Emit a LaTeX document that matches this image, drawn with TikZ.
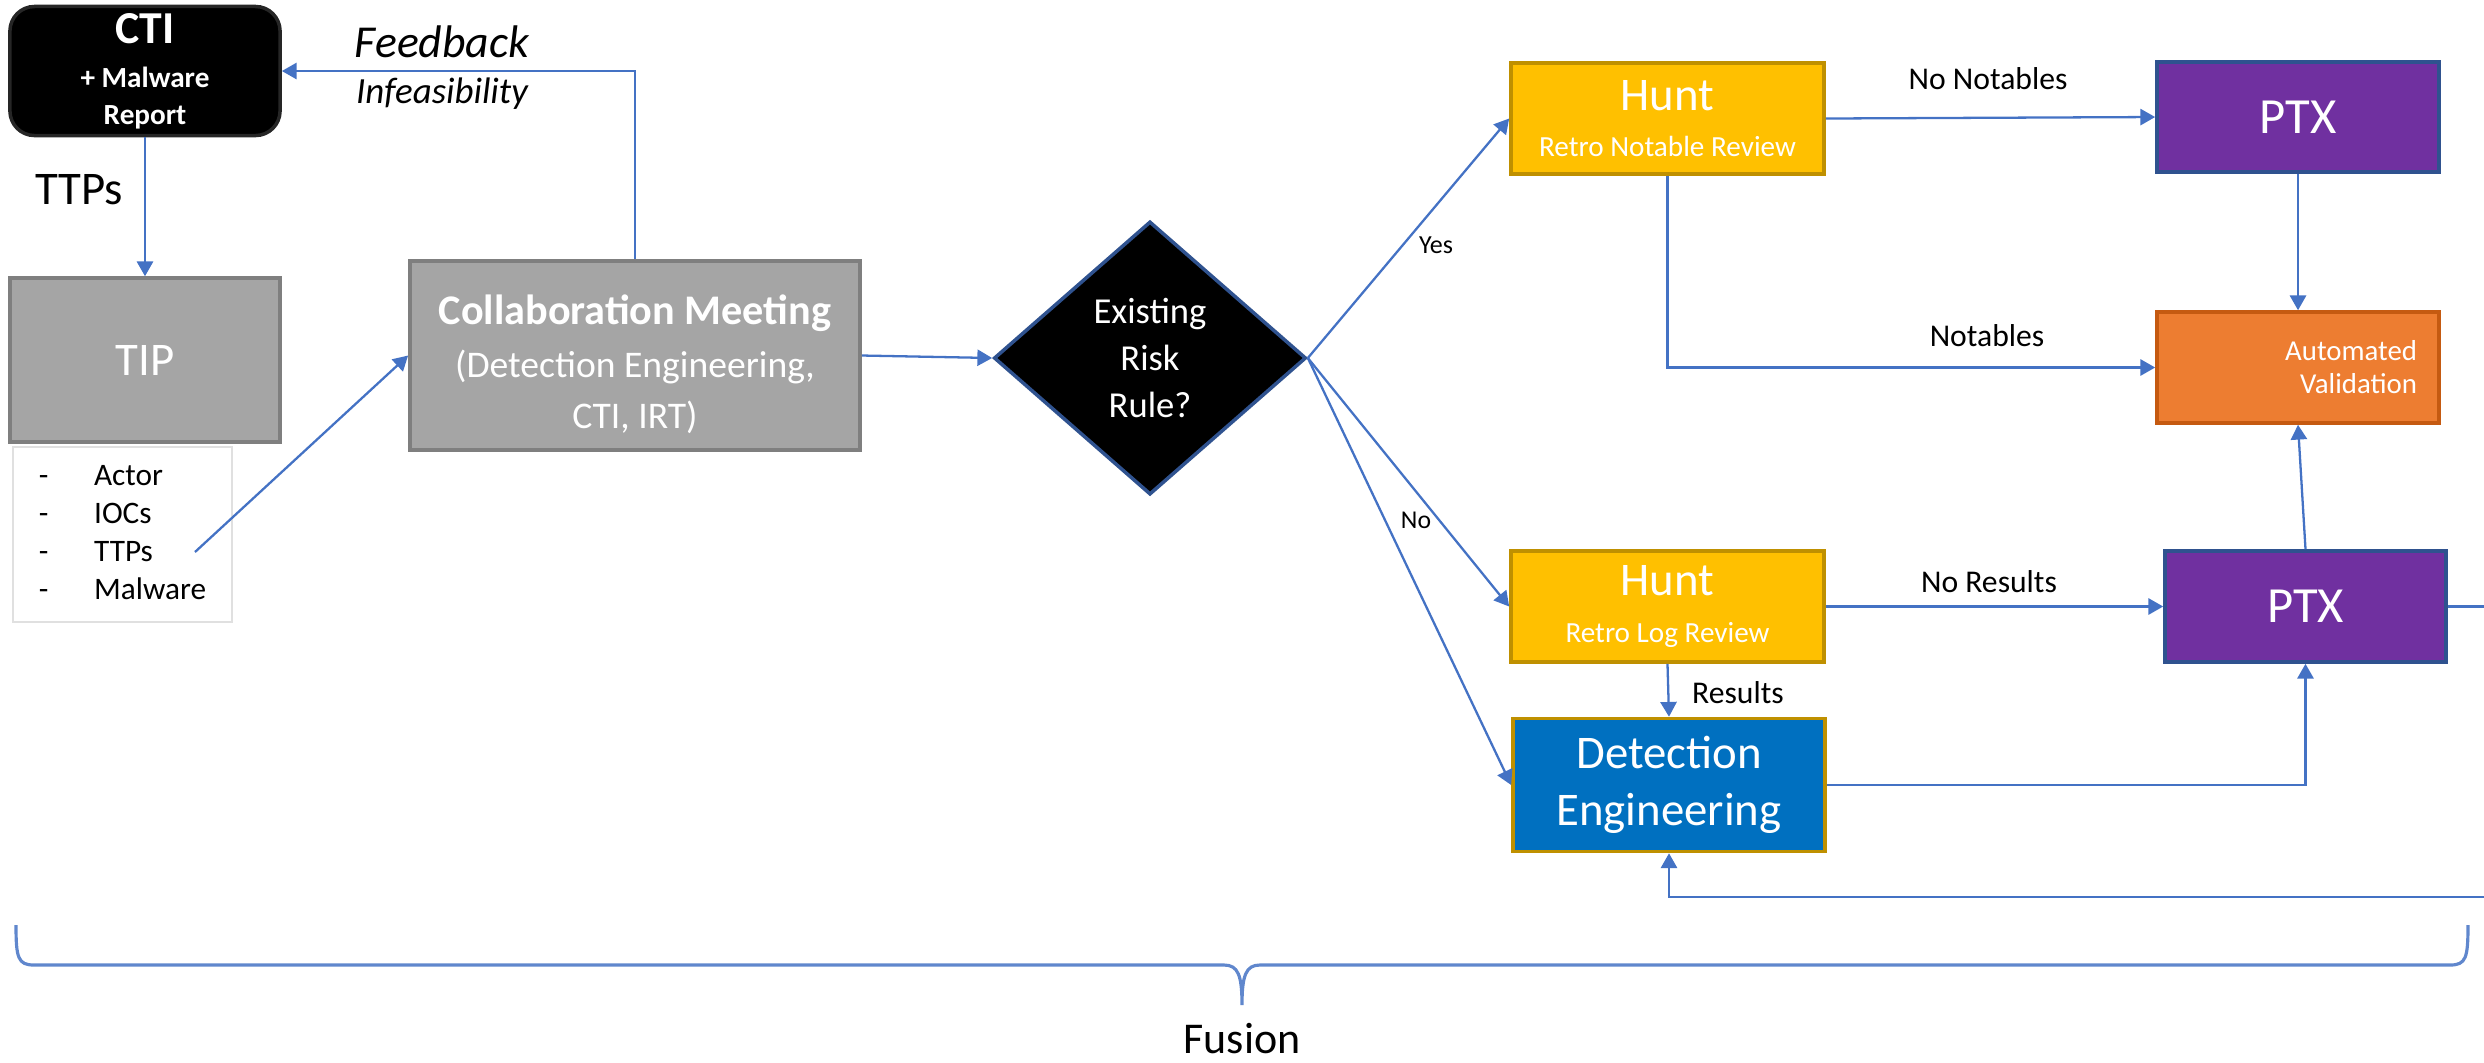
\documentclass[tikz,border=0pt]{standalone}
\usepackage{fontspec}
\setmainfont{Carlito}
\usetikzlibrary{arrows.meta,shapes.geometric}
\definecolor{linkblue}{HTML}{4472C4}
\definecolor{boxgray}{HTML}{A5A5A5}
\definecolor{grayedge}{HTML}{7F7F7F}
\definecolor{huntgold}{HTML}{FFC000}
\definecolor{goldedge}{HTML}{BF9000}
\definecolor{ptxpurple}{HTML}{7030A0}
\definecolor{navyedge}{HTML}{2F528F}
\definecolor{valorange}{HTML}{ED7D31}
\definecolor{orangeedge}{HTML}{C55A11}
\definecolor{deblue}{HTML}{0070C0}

\begin{document}
\begin{tikzpicture}[x=0.01cm,y=-0.01cm,
  box/.style={draw,line width=1pt,text=white,inner sep=0pt,align=center},
  wire/.style={draw=linkblue,line width=0.65pt},
  arr/.style={wire,-{Triangle[length=4.2pt,width=4.6pt]}},
  lbl/.style={inner sep=1pt,font=\fontsize{9}{11}\selectfont}]
  \path[use as bounding box] (0,0) rectangle (2484,1062);
  \node[box,fill=black,draw=black!85,rounded corners=7pt,minimum width=2.7cm,minimum height=1.29cm,font=\bfseries\fontsize{8.3}{10}\selectfont](cti) at (145,71){{\fontsize{13}{13}\selectfont CTI}\\[2.5pt]+ Malware\\[0.5pt]Report};
  \node[box,fill=boxgray,draw=grayedge,minimum width=2.7cm,minimum height=1.64cm,font=\fontsize{13.3}{16}\selectfont](tip) at (145,360){TIP};
  \node[draw=black!12,line width=0.8pt,minimum width=2.19cm,minimum height=1.75cm,inner sep=0pt,font=\fontsize{8.9}{10.8}\selectfont](intel) at (122.5,534.5){\begin{tabular}{@{}l@{\hspace{13pt}}l@{}}-&Actor\\-&IOCs\\-&TTPs\\-&Malware\end{tabular}};
  \node[box,fill=boxgray,draw=grayedge,minimum width=4.5cm,minimum height=1.89cm,font=\fontsize{10.7}{14.5}\selectfont](meet) at (635,355.5){\rule{0pt}{13.6pt}{\bfseries\fontsize{12}{13}\selectfont Collaboration Meeting}\\[0.5pt](Detection Engineering,\\CTI, IRT)};
  \node[diamond,draw=navyedge,fill=black,text=white,line width=1pt,inner sep=0pt,aspect=1.14,minimum width=3.12cm,minimum height=2.73cm,align=center,font=\fontsize{10.4}{13.3}\selectfont](rule) at (1150,358){Existing\\Risk\\Rule?};
  \node[box,fill=huntgold,draw=goldedge,minimum width=3.13cm,minimum height=1.11cm,font=\fontsize{8.3}{10}\selectfont](hunt1) at (1667.5,118.5){{\fontsize{13.3}{14}\selectfont Hunt}\\[3.2pt]Retro Notable Review};
  \node[box,fill=ptxpurple,draw=navyedge,minimum width=2.82cm,minimum height=1.1cm,font=\fontsize{14.4}{16}\selectfont](ptx1) at (2298,117){PTX};
  \node[box,fill=valorange,draw=orangeedge,minimum width=2.82cm,minimum height=1.11cm,inner xsep=0.22cm,text width=2.38cm,align=right,font=\fontsize{8.2}{9.4}\selectfont](auto) at (2298,367.5){Automated\\Validation};
  \node[box,fill=huntgold,draw=goldedge,minimum width=3.13cm,minimum height=1.11cm,font=\fontsize{8.3}{10}\selectfont](hunt2) at (1667.5,606.5){{\fontsize{13.3}{14}\selectfont Hunt}\\[3.2pt]Retro Log Review};
  \node[box,fill=ptxpurple,draw=navyedge,minimum width=2.81cm,minimum height=1.11cm,font=\fontsize{14.4}{16}\selectfont](ptx2) at (2305.5,606.5){PTX};
  \node[box,fill=deblue,draw=goldedge,minimum width=3.12cm,minimum height=1.33cm,font=\fontsize{13.3}{16.2}\selectfont](det) at (1669,785){Detection\\Engineering};
  \node[font=\fontsize{13.3}{14}\selectfont](ttps) at (79,190){TTPs};
  \node[font=\itshape\fontsize{13}{14}\selectfont](feedback) at (442,42){Feedback};
  \node[font=\itshape\fontsize{10.5}{12}\selectfont](infeas) at (442,94){Infeasibility};
  \node[lbl,font=\fontsize{7.4}{9}\selectfont](yes) at (1436,245){Yes};
  \node[lbl,font=\fontsize{7.3}{9}\selectfont](no) at (1416,520){No};
  \node[lbl](nonot) at (1988,79){No Notables};
  \node[lbl](notab) at (1987,336){Notables};
  \node[lbl](nores) at (1989,582){No Results};
  \node[lbl](res) at (1738,693){Results};
  \node[inner sep=0pt,font=\fontsize{12.5}{13}\selectfont](fusion) at (1242,1039){Fusion};
  \coordinate (ttpout) at (195,552);
  \coordinate (edge1) at (2484,606.5);
  \coordinate (edge2) at (2484,897);
  \draw[arr](cti)--(tip);
  \draw[arr](meet.north)|-(cti.east);
  \draw[arr](ttpout)--(meet.west);
  \draw[arr](meet.east)--(rule.west);
  \draw[arr](rule.east)--(hunt1.west);
  \draw[arr](rule.east)--(hunt2.west);
  \draw[arr](rule.east)--(det.west);
  \draw[arr](hunt1.east)--(ptx1.west);
  \draw[arr](ptx1)--(auto);
  \draw[arr](hunt1.south)|-(auto.west);
  \draw[arr](ptx2.north)--(auto.south);
  \draw[arr](hunt2.east)--(ptx2.west);
  \draw[arr](hunt2.south)--(det.north);
  \draw[arr](det.east)-|(ptx2.south);
  \draw[wire](ptx2.east)--(edge1);
  \draw[arr](edge2)-|(det.south);
  \draw[linkblue!85,line width=0.9pt](16,925) .. controls (16,958) and (18,965) .. (34,965)--(1224,965) .. controls (1238,965) and (1242,975) .. (1242,1005) .. controls (1242,975) and (1246,965) .. (1260,965)--(2450,965) .. controls (2466,965) and (2468,958) .. (2468,925);
\end{tikzpicture}
\end{document}
